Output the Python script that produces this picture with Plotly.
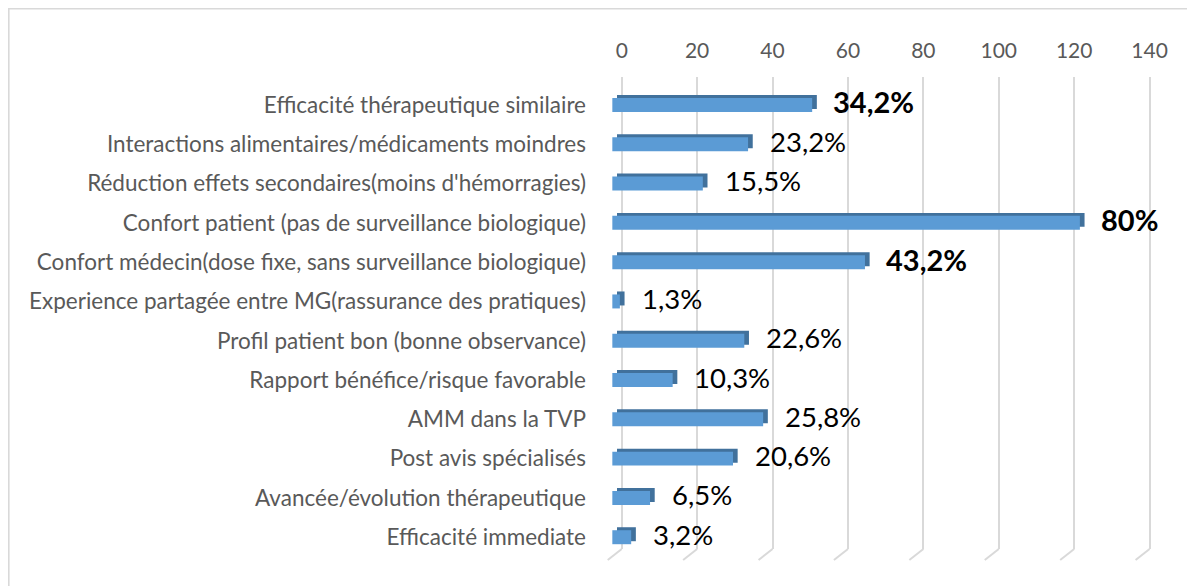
import plotly.graph_objects as go

categories = [
    "Efficacité thérapeutique similaire",
    "Interactions alimentaires/médicaments moindres",
    "Réduction effets secondaires(moins d'hémorragies)",
    "Confort patient (pas de surveillance biologique)",
    "Confort médecin(dose fixe, sans surveillance biologique)",
    "Experience partagée entre MG(rassurance des pratiques)",
    "Profil patient bon (bonne observance)",
    "Rapport bénéfice/risque favorable",
    "AMM dans la TVP",
    "Post avis spécialisés",
    "Avancée/évolution thérapeutique",
    "Efficacité immediate",
]
counts = [53, 36, 24, 124, 67, 2, 35, 16, 40, 32, 10, 5]
pct_labels = ["34,2%", "23,2%", "15,5%", "80%", "43,2%", "1,3%",
              "22,6%", "10,3%", "25,8%", "20,6%", "6,5%", "3,2%"]
bold_labels = [True, False, False, True, True, False,
               False, False, False, False, False, False]
x_ticks = [0, 20, 40, 60, 80, 100, 120, 140]

# the page adds an 8px body margin, so the figure is 8px smaller
OFF = 8
W, H = 1195 - OFF, 586 - OFF
FONT = "Lato"
GRID = "#D9D9D9"

# 3D look: back (depth) bar and front bar shifted along x
front_shift = -2.49
back_shift = -1.25
bar_w = 0.356
lift = 0.076

fig = go.Figure()
fig.add_trace(go.Bar(
    y=categories, x=counts, base=back_shift, orientation="h",
    width=bar_w, offset=-bar_w / 2 - lift,
    marker=dict(color="#41719C", line=dict(width=0)),
    hoverinfo="skip", showlegend=False,
))
fig.add_trace(go.Bar(
    y=categories, x=counts, base=front_shift, orientation="h",
    width=bar_w, offset=-bar_w / 2,
    marker=dict(color="#5B9BD5", line=dict(width=0)),
    showlegend=False,
))

annotations = []
for cat, v, lab, b in zip(categories, counts, pct_labels, bold_labels):
    annotations.append(dict(
        x=v + back_shift, y=cat, xref="x", yref="y",
        text=f"<b>{lab}</b>" if b else lab,
        showarrow=False, xanchor="left", yanchor="middle",
        xshift=14 if b else 15, yshift=3,
        font=dict(family=FONT, size=29 if b else 27.5, color="#000000"),
    ))

shapes = []
for t in x_ticks:
    shapes.append(dict(
        type="line", xref="x", xsizemode="pixel", xanchor=t, x0=0, x1=-14,
        yref="y domain", ysizemode="pixel", yanchor=0, y0=0, y1=-11,
        line=dict(color=GRID, width=2), layer="below",
    ))
shapes.append(dict(
    type="rect", xref="paper", yref="paper",
    x0=0.8 / W, y0=-0.05, x1=1.05, y1=1 - 0.8 / H,
    line=dict(color=GRID, width=1.6), fillcolor="rgba(0,0,0,0)", layer="above",
))

fig.update_layout(
    width=W, height=H,
    margin=dict(l=0, r=0, t=0, b=0),
    paper_bgcolor="white", plot_bgcolor="white",
    barmode="overlay",
    font=dict(family=FONT, color="#595959"),
    annotations=annotations,
    shapes=shapes,
    xaxis=dict(
        domain=[(600 - OFF) / W, (1160 - OFF) / W],
        range=[-5.76, 142.76],
        side="top",
        tickvals=x_ticks,
        ticktext=[str(t) for t in x_ticks],
        showgrid=True, gridcolor=GRID, gridwidth=2,
        zeroline=False, showline=False,
        ticks="", ticklabelstandoff=14,
        tickfont=dict(family=FONT, size=21, color="#595959"),
        fixedrange=True, automargin=False,
    ),
    yaxis=dict(
        domain=[1 - (549 - OFF) / H, 1 - (77 - OFF) / H],
        range=[11.30, -0.712],
        type="category",
        showgrid=False, zeroline=False, showline=False,
        ticks="", ticklabelstandoff=13,
        tickfont=dict(family=FONT, size=22.5, color="#595959"),
        fixedrange=True, automargin=False,
    ),
)

fig.write_html("out.html")
